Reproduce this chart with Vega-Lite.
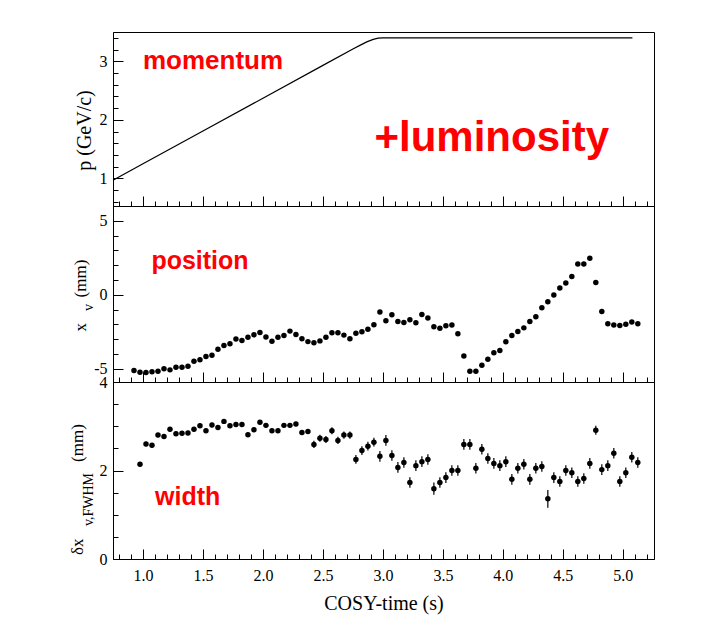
{
  "$schema": "https://vega.github.io/schema/vega-lite/v6.json",
  "autosize": {"type": "pad"},
  "padding": {"left": 67, "top": 31, "right": 5, "bottom": 5},
  "background": "white",
  "spacing": 0,
  "bounds": "flush",
  "datasets": {
    "momentum": [
      {"t": 0.75, "p": 0.97}, {"t": 1.0, "p": 1.25}, {"t": 1.5, "p": 1.81}, {"t": 2.0, "p": 2.37},
      {"t": 2.5, "p": 2.93}, {"t": 2.75, "p": 3.21}, {"t": 2.82, "p": 3.285}, {"t": 2.87, "p": 3.335},
      {"t": 2.92, "p": 3.375}, {"t": 2.96, "p": 3.395}, {"t": 3.0, "p": 3.4}, {"t": 5.08, "p": 3.4}
    ],
    "position": [
      {"t": 0.925, "x": -5.13}, {"t": 0.975, "x": -5.24}, {"t": 1.025, "x": -5.26}, {"t": 1.075, "x": -5.2},
      {"t": 1.125, "x": -5.17}, {"t": 1.175, "x": -5.01}, {"t": 1.225, "x": -5.08}, {"t": 1.275, "x": -4.9},
      {"t": 1.325, "x": -4.9}, {"t": 1.375, "x": -4.83}, {"t": 1.425, "x": -4.49}, {"t": 1.475, "x": -4.4},
      {"t": 1.525, "x": -4.18}, {"t": 1.575, "x": -4.09}, {"t": 1.625, "x": -3.68}, {"t": 1.675, "x": -3.43},
      {"t": 1.725, "x": -3.32}, {"t": 1.775, "x": -3.0}, {"t": 1.825, "x": -3.09}, {"t": 1.875, "x": -2.87},
      {"t": 1.925, "x": -2.71}, {"t": 1.975, "x": -2.55}, {"t": 2.025, "x": -2.85}, {"t": 2.075, "x": -3.14},
      {"t": 2.125, "x": -2.87}, {"t": 2.175, "x": -2.76}, {"t": 2.225, "x": -2.46}, {"t": 2.275, "x": -2.69},
      {"t": 2.325, "x": -2.98}, {"t": 2.375, "x": -3.17}, {"t": 2.425, "x": -3.25}, {"t": 2.475, "x": -3.12},
      {"t": 2.525, "x": -2.87}, {"t": 2.575, "x": -2.57}, {"t": 2.625, "x": -2.57}, {"t": 2.675, "x": -2.73},
      {"t": 2.725, "x": -2.98}, {"t": 2.775, "x": -2.6}, {"t": 2.825, "x": -2.51}, {"t": 2.875, "x": -2.33},
      {"t": 2.925, "x": -2.03}, {"t": 2.975, "x": -1.17}, {"t": 3.025, "x": -1.76}, {"t": 3.075, "x": -1.36},
      {"t": 3.125, "x": -1.81}, {"t": 3.175, "x": -1.88}, {"t": 3.225, "x": -1.69}, {"t": 3.275, "x": -1.9},
      {"t": 3.325, "x": -1.33}, {"t": 3.375, "x": -1.58}, {"t": 3.425, "x": -2.17}, {"t": 3.475, "x": -2.26},
      {"t": 3.525, "x": -2.1}, {"t": 3.575, "x": -2.05}, {"t": 3.625, "x": -2.63}, {"t": 3.675, "x": -4.14},
      {"t": 3.725, "x": -5.17}, {"t": 3.775, "x": -5.17}, {"t": 3.825, "x": -4.76}, {"t": 3.875, "x": -4.36},
      {"t": 3.925, "x": -3.93}, {"t": 3.975, "x": -3.77}, {"t": 4.025, "x": -3.18}, {"t": 4.075, "x": -2.76},
      {"t": 4.125, "x": -2.48}, {"t": 4.175, "x": -2.24}, {"t": 4.225, "x": -1.81}, {"t": 4.275, "x": -1.49},
      {"t": 4.325, "x": -0.88}, {"t": 4.375, "x": -0.47}, {"t": 4.425, "x": -0.02}, {"t": 4.475, "x": 0.45},
      {"t": 4.525, "x": 0.79}, {"t": 4.575, "x": 1.24}, {"t": 4.625, "x": 2.08}, {"t": 4.675, "x": 2.08},
      {"t": 4.725, "x": 2.46}, {"t": 4.775, "x": 0.83}, {"t": 4.825, "x": -1.13}, {"t": 4.875, "x": -1.96},
      {"t": 4.925, "x": -2.05}, {"t": 4.975, "x": -2.08}, {"t": 5.025, "x": -1.99}, {"t": 5.075, "x": -1.85},
      {"t": 5.125, "x": -1.96}
    ],
    "width": [
      {"t": 0.975, "w": 2.14, "e": 0.05}, {"t": 1.025, "w": 2.6, "e": 0.05}, {"t": 1.075, "w": 2.57, "e": 0.05},
      {"t": 1.125, "w": 2.8, "e": 0.05}, {"t": 1.175, "w": 2.77, "e": 0.05}, {"t": 1.225, "w": 2.93, "e": 0.05},
      {"t": 1.275, "w": 2.83, "e": 0.05}, {"t": 1.325, "w": 2.84, "e": 0.05}, {"t": 1.375, "w": 2.85, "e": 0.05},
      {"t": 1.425, "w": 2.93, "e": 0.05}, {"t": 1.475, "w": 3.01, "e": 0.05}, {"t": 1.525, "w": 2.9, "e": 0.05},
      {"t": 1.575, "w": 3.03, "e": 0.05}, {"t": 1.625, "w": 2.97, "e": 0.05}, {"t": 1.675, "w": 3.11, "e": 0.05},
      {"t": 1.725, "w": 3.01, "e": 0.05}, {"t": 1.775, "w": 3.04, "e": 0.05}, {"t": 1.825, "w": 3.04, "e": 0.05},
      {"t": 1.875, "w": 2.81, "e": 0.05}, {"t": 1.925, "w": 2.92, "e": 0.05}, {"t": 1.975, "w": 3.09, "e": 0.05},
      {"t": 2.025, "w": 3.02, "e": 0.05}, {"t": 2.075, "w": 2.9, "e": 0.05}, {"t": 2.125, "w": 2.9, "e": 0.05},
      {"t": 2.175, "w": 3.02, "e": 0.05}, {"t": 2.225, "w": 3.02, "e": 0.05}, {"t": 2.275, "w": 3.05, "e": 0.05},
      {"t": 2.325, "w": 2.86, "e": 0.05}, {"t": 2.375, "w": 2.88, "e": 0.05}, {"t": 2.425, "w": 2.59, "e": 0.08},
      {"t": 2.475, "w": 2.73, "e": 0.08}, {"t": 2.525, "w": 2.7, "e": 0.08}, {"t": 2.575, "w": 2.9, "e": 0.08},
      {"t": 2.625, "w": 2.68, "e": 0.08}, {"t": 2.675, "w": 2.8, "e": 0.08}, {"t": 2.725, "w": 2.8, "e": 0.08},
      {"t": 2.775, "w": 2.25, "e": 0.1}, {"t": 2.825, "w": 2.45, "e": 0.1}, {"t": 2.875, "w": 2.55, "e": 0.1},
      {"t": 2.925, "w": 2.64, "e": 0.1}, {"t": 2.975, "w": 2.32, "e": 0.12}, {"t": 3.025, "w": 2.68, "e": 0.12},
      {"t": 3.075, "w": 2.34, "e": 0.12}, {"t": 3.125, "w": 2.07, "e": 0.12}, {"t": 3.175, "w": 2.18, "e": 0.12},
      {"t": 3.225, "w": 1.73, "e": 0.12}, {"t": 3.275, "w": 2.11, "e": 0.12}, {"t": 3.325, "w": 2.2, "e": 0.12},
      {"t": 3.375, "w": 2.25, "e": 0.12}, {"t": 3.425, "w": 1.59, "e": 0.14}, {"t": 3.475, "w": 1.73, "e": 0.12},
      {"t": 3.525, "w": 1.84, "e": 0.12}, {"t": 3.575, "w": 2.0, "e": 0.12}, {"t": 3.625, "w": 2.0, "e": 0.12},
      {"t": 3.675, "w": 2.59, "e": 0.12}, {"t": 3.725, "w": 2.59, "e": 0.12}, {"t": 3.775, "w": 2.05, "e": 0.12},
      {"t": 3.825, "w": 2.48, "e": 0.12}, {"t": 3.875, "w": 2.27, "e": 0.12}, {"t": 3.925, "w": 2.16, "e": 0.12},
      {"t": 3.975, "w": 2.11, "e": 0.12}, {"t": 4.025, "w": 2.2, "e": 0.12}, {"t": 4.075, "w": 1.8, "e": 0.12},
      {"t": 4.125, "w": 2.05, "e": 0.12}, {"t": 4.175, "w": 2.14, "e": 0.12}, {"t": 4.225, "w": 1.8, "e": 0.12},
      {"t": 4.275, "w": 2.05, "e": 0.12}, {"t": 4.325, "w": 2.09, "e": 0.12}, {"t": 4.375, "w": 1.36, "e": 0.2},
      {"t": 4.425, "w": 1.84, "e": 0.12}, {"t": 4.475, "w": 1.75, "e": 0.12}, {"t": 4.525, "w": 2.0, "e": 0.12},
      {"t": 4.575, "w": 1.95, "e": 0.12}, {"t": 4.625, "w": 1.75, "e": 0.12}, {"t": 4.675, "w": 1.82, "e": 0.12},
      {"t": 4.725, "w": 2.16, "e": 0.12}, {"t": 4.775, "w": 2.91, "e": 0.1}, {"t": 4.825, "w": 2.02, "e": 0.12},
      {"t": 4.875, "w": 2.11, "e": 0.12}, {"t": 4.925, "w": 2.39, "e": 0.12}, {"t": 4.975, "w": 1.75, "e": 0.12},
      {"t": 5.025, "w": 1.95, "e": 0.12}, {"t": 5.075, "w": 2.3, "e": 0.12}, {"t": 5.125, "w": 2.18, "e": 0.12}
    ],
    "topLabels": [{"t": 1.0, "p": 2.876, "label": "momentum"}],
    "lumLabel": [{"t": 2.93, "p": 1.475, "label": "+luminosity"}],
    "midLabel": [{"t": 1.07, "x": 1.76, "label": "position"}],
    "botLabel": [{"t": 1.1, "w": 1.23, "label": "width"}]
  },
  "vconcat": [
    {
      "width": 541,
      "height": 174,
      "resolve": {"axis": {"x": "independent", "y": "independent"}},
      "layer": [
        {
          "data": {"name": "momentum"},
          "mark": {"type": "line", "color": "black", "strokeWidth": 1.2},
          "encoding": {
            "x": {
              "field": "t", "type": "quantitative",
              "scale": {"domain": [0.75, 5.26], "nice": false, "zero": false},
              "axis": {"orient": "bottom", "title": null, "labels": false, "grid": true, "gridDash": [10, 2000], "gridDashOffset": 1846,
                "values": [1.0, 1.5, 2.0, 2.5, 3.0, 3.5, 4.0, 4.5, 5.0]}
            },
            "y": {
              "field": "p", "type": "quantitative",
              "scale": {"domain": [0.53, 3.5], "nice": false, "zero": false},
              "axis": {
                "orient": "left", "grid": true, "gridDash": [10, 2000], "labelPadding": 6,
                "title": "p (GeV/c)", "titleFontSize": 20, "titleX": -29, "titleY": 98, "titleAngle": 270,
                "titleAlign": "center", "titleBaseline": "middle",
                "values": [1, 2, 3], "labelExpr": "'' + datum.value"
              }
            }
          }
        },
        {
          "data": {"name": "topLabels"},
          "mark": {"type": "text", "font": "Liberation Sans", "fontWeight": "bold", "fontSize": 26, "color": "#ff0000", "align": "left", "baseline": "alphabetic"},
          "encoding": {
            "x": {
              "field": "t", "type": "quantitative",
              "axis": {"orient": "bottom", "title": null, "labels": false, "domain": false, "grid": true, "gridDash": [5, 2000], "gridDashOffset": 1836,
                "values": [0.8, 0.9, 1.1, 1.2, 1.3, 1.4, 1.6, 1.7, 1.8, 1.9, 2.1, 2.2, 2.3, 2.4, 2.6, 2.7, 2.8, 2.9, 3.1, 3.2, 3.3, 3.4, 3.6, 3.7, 3.8, 3.9, 4.1, 4.2, 4.3, 4.4, 4.6, 4.7, 4.8, 4.9, 5.1, 5.2]}
            },
            "y": {
              "field": "p", "type": "quantitative",
              "axis": {"orient": "left", "title": null, "labels": false, "domain": false, "grid": true, "gridDash": [5, 2000],
                "values": [0.6, 0.8, 1.2, 1.4, 1.6, 1.8, 2.2, 2.4, 2.6, 2.8, 3.2, 3.4]}
            },
            "text": {"field": "label"}
          }
        },
        {
          "data": {"name": "lumLabel"},
          "mark": {"type": "text", "font": "Liberation Sans", "fontWeight": "bold", "fontSize": 42, "color": "#ff0000", "align": "left", "baseline": "alphabetic"},
          "encoding": {
            "x": {"field": "t", "type": "quantitative", "axis": null},
            "y": {"field": "p", "type": "quantitative", "axis": null},
            "text": {"field": "label"}
          }
        }
      ]
    },
    {
      "width": 541,
      "height": 176,
      "resolve": {"axis": {"x": "independent", "y": "independent"}},
      "layer": [
        {
          "data": {"name": "position"},
          "mark": {"type": "circle", "color": "black", "size": 30, "opacity": 1},
          "encoding": {
            "x": {
              "field": "t", "type": "quantitative",
              "scale": {"domain": [0.75, 5.26], "nice": false, "zero": false},
              "axis": {"orient": "bottom", "title": null, "labels": false, "grid": true, "gridDash": [10, 2000], "gridDashOffset": 1844,
                "values": [1.0, 1.5, 2.0, 2.5, 3.0, 3.5, 4.0, 4.5, 5.0]}
            },
            "y": {
              "field": "x", "type": "quantitative",
              "scale": {"domain": [-5.9, 6.0], "nice": false, "zero": false},
              "axis": {
                "orient": "left", "grid": true, "gridDash": [10, 2000], "labelPadding": 6,
                "title": "x\u2002\u2002\u2002(mm)", "titleFontSize": 17, "titleX": -33, "titleY": 89, "titleAngle": 270,
                "titleAlign": "center", "titleBaseline": "middle",
                "values": [-5, 0, 5], "labelExpr": "'' + datum.value"
              }
            }
          }
        },
        {
          "data": {"name": "midLabel"},
          "mark": {"type": "text", "font": "Liberation Sans", "fontWeight": "bold", "fontSize": 25, "color": "#ff0000", "align": "left", "baseline": "alphabetic"},
          "encoding": {
            "x": {
              "field": "t", "type": "quantitative",
              "axis": {"orient": "bottom", "title": null, "labels": false, "domain": false, "grid": true, "gridDash": [5, 2000], "gridDashOffset": 1834,
                "values": [0.8, 0.9, 1.1, 1.2, 1.3, 1.4, 1.6, 1.7, 1.8, 1.9, 2.1, 2.2, 2.3, 2.4, 2.6, 2.7, 2.8, 2.9, 3.1, 3.2, 3.3, 3.4, 3.6, 3.7, 3.8, 3.9, 4.1, 4.2, 4.3, 4.4, 4.6, 4.7, 4.8, 4.9, 5.1, 5.2]}
            },
            "y": {
              "field": "x", "type": "quantitative",
              "axis": {"orient": "left", "labels": false, "domain": false, "grid": true, "gridDash": [5, 2000],
                "values": [-4, -3, -2, -1, 1, 2, 3, 4],
                "title": "v", "titleFontSize": 14, "titleX": -25, "titleY": 101, "titleAngle": 270,
                "titleAlign": "center", "titleBaseline": "middle"}
            },
            "text": {"field": "label"}
          }
        }
      ]
    },
    {
      "width": 541,
      "height": 177,
      "resolve": {"axis": {"x": "independent", "y": "independent"}},
      "layer": [
        {
          "data": {"name": "width"},
          "mark": {"type": "errorbar", "color": "black", "thickness": 1.2},
          "encoding": {
            "x": {
              "field": "t", "type": "quantitative",
              "scale": {"domain": [0.75, 5.26], "nice": false, "zero": false},
              "axis": {"orient": "bottom", "title": null, "labels": false, "domain": false, "grid": true, "gridDash": [5, 2000], "gridDashOffset": 1833,
                "values": [0.8, 0.9, 1.1, 1.2, 1.3, 1.4, 1.6, 1.7, 1.8, 1.9, 2.1, 2.2, 2.3, 2.4, 2.6, 2.7, 2.8, 2.9, 3.1, 3.2, 3.3, 3.4, 3.6, 3.7, 3.8, 3.9, 4.1, 4.2, 4.3, 4.4, 4.6, 4.7, 4.8, 4.9, 5.1, 5.2]}
            },
            "y": {
              "field": "w", "type": "quantitative",
              "scale": {"domain": [0, 4], "nice": false, "zero": false},
              "axis": {"orient": "left", "labels": false, "domain": false, "grid": true, "gridDash": [5, 2000],
                "values": [0.5, 1, 1.5, 2.5, 3, 3.5],
                "title": "v,FWHM", "titleFontSize": 14, "titleX": -25, "titleY": 117, "titleAngle": 270,
                "titleAlign": "center", "titleBaseline": "middle"}
            },
            "yError": {"field": "e"}
          }
        },
        {
          "data": {"name": "width"},
          "mark": {"type": "circle", "color": "black", "size": 30, "opacity": 1},
          "encoding": {
            "x": {
              "field": "t", "type": "quantitative",
              "axis": {"orient": "bottom", "grid": true, "gridDash": [10, 2000], "gridDashOffset": 1843, "labelPadding": 8, "format": ".1f",
                "title": "COSY-time (s)", "titleFontSize": 20, "titleY": 50, "titleBaseline": "alphabetic",
                "values": [1.0, 1.5, 2.0, 2.5, 3.0, 3.5, 4.0, 4.5, 5.0]}
            },
            "y": {
              "field": "w", "type": "quantitative",
              "axis": {
                "orient": "left", "grid": true, "gridDash": [10, 2000], "labelPadding": 6,
                "title": "\u03b4x\u2002\u2002\u2002\u2002\u2002\u2002\u2002\u2002\u2002(mm)", "titleFontSize": 17, "titleX": -36, "titleY": 107, "titleAngle": 270,
                "titleAlign": "center", "titleBaseline": "middle",
                "values": [0, 2, 4], "labelExpr": "'' + datum.value"
              }
            }
          }
        },
        {
          "data": {"name": "botLabel"},
          "mark": {"type": "text", "font": "Liberation Sans", "fontWeight": "bold", "fontSize": 25, "color": "#ff0000", "align": "left", "baseline": "alphabetic"},
          "encoding": {
            "x": {"field": "t", "type": "quantitative", "axis": null},
            "y": {"field": "w", "type": "quantitative", "axis": null},
            "text": {"field": "label"}
          }
        }
      ]
    }
  ],
  "config": {
    "font": "Liberation Serif",
    "view": {"stroke": "black", "strokeWidth": 1},
    "axis": {
      "labelFont": "Liberation Serif", "labelFontSize": 16, "labelColor": "black",
      "titleFont": "Liberation Serif", "titleFontWeight": "normal", "titleColor": "black",
      "domainColor": "black", "ticks": false, "gridColor": "black", "gridOpacity": 1, "gridWidth": 1,
      "labelFlush": false, "labelOverlap": false
    }
  }
}
